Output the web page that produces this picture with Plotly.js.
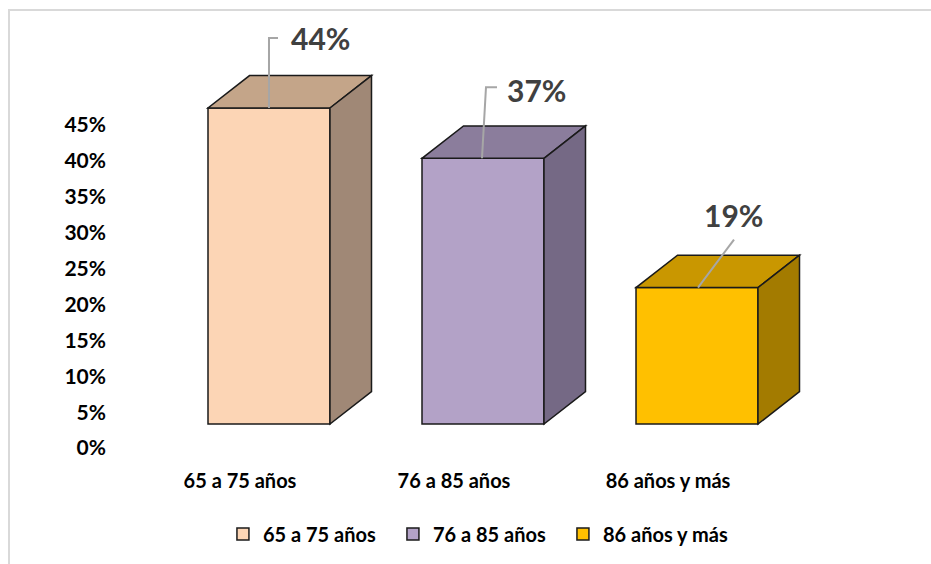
<!DOCTYPE html>
<html>
<head>
<meta charset="utf-8">
<script src="https://cdn.plot.ly/plotly-3.0.1.min.js"></script>
<style>
  html, body { margin: 0; padding: 0; background: #ffffff; overflow: hidden; }
  #chart { position: absolute; left: 0; top: 0; width: 931px; height: 564px; }
  #frame { position: absolute; left: 8px; top: 9px; width: 960px; height: 600px;
           border-top: 2px solid #d9d9d9; border-left: 2px solid #d9d9d9; pointer-events: none; }
</style>
</head>
<body>
<div id="chart"></div>
<div id="frame"></div>
<script>
// ---- data ----
const categories = ['65 a 75 años', '76 a 85 años', '86 años y más'];
const values = [44, 37, 19];
const yTickValues = [0, 5, 10, 15, 20, 25, 30, 35, 40, 45];
const yTickLabels = ['0%', '5%', '10%', '15%', '20%', '25%', '30%', '35%', '40%', '45%'];

// ---- style ----
const frontColors = ['#FCD5B5', '#B3A2C7', '#FFC000'];
const topColors = ['#C4A589', '#8B7D9C', '#C99700'];
const sideColors = ['#A08876', '#756985', '#A37B00'];
const outline = '#1a1a1a';
const barWidth = 0.57;          // in category units
const depthX = 0.194;           // 3D depth, category units
const depthY = 4.51;            // 3D depth, value units
const leaderPaths = ['M0,0 L0,70 L9,70', 'M-1,0 L3,71 L14,71', 'M1,0 L37,48'];
const labelShift = [[20, 70, 'left'], [22, 68, 'left'], [36, 73, 'center']];
const FONT = 'Lato, "Open Sans", sans-serif';

const traces = categories.map((c, i) => ({
  type: 'bar',
  name: c,
  x: [i],
  y: [values[i]],
  width: barWidth,
  marker: { color: frontColors[i], line: { color: outline, width: 1.5 } },
  hoverinfo: 'skip'
}));

const shapes = [];
const annotations = [];
categories.forEach((c, i) => {
  const v = values[i];
  const h = barWidth / 2;
  // top face
  shapes.push({
    type: 'path', xref: 'x', yref: 'y', layer: 'above',
    path: `M${i - h},${v} L${i + h},${v} L${i + h + depthX},${v + depthY} L${i - h + depthX},${v + depthY} Z`,
    fillcolor: topColors[i], line: { color: outline, width: 1.5 }
  });
  // side face
  shapes.push({
    type: 'path', xref: 'x', yref: 'y', layer: 'above',
    path: `M${i + h},0 L${i + h},${v} L${i + h + depthX},${v + depthY} L${i + h + depthX},${depthY} Z`,
    fillcolor: sideColors[i], line: { color: outline, width: 1.5 }
  });
  // leader line
  shapes.push({
    type: 'path', xref: 'x', yref: 'y', layer: 'above',
    xsizemode: 'pixel', ysizemode: 'pixel', xanchor: i, yanchor: v,
    path: leaderPaths[i],
    line: { color: '#A6A6A6', width: 2 }
  });
  annotations.push({
    xref: 'x', yref: 'y', x: i, y: v,
    xshift: labelShift[i][0], yshift: labelShift[i][1],
    xanchor: labelShift[i][2], yanchor: 'middle',
    text: v + '%', showarrow: false,
    font: { family: FONT, size: 30, color: '#404040', weight: 'bold' }
  });
});

const layout = {
  width: 931, height: 564,
  margin: { l: 112, r: 20, t: 20, b: 104 },
  paper_bgcolor: 'rgba(0,0,0,0)', plot_bgcolor: 'rgba(0,0,0,0)',
  barmode: 'overlay',
  showlegend: true,
  font: { family: FONT, color: '#000000' },
  xaxis: {
    type: 'linear', range: [-0.7336, 3.0],
    tickmode: 'array', tickvals: categories.map((c, i) => i), ticktext: categories,
    ticklabelshift: -29, ticklabelstandoff: 8,
    showgrid: false, zeroline: false, showline: false, ticks: '',
    tickfont: { family: FONT, size: 20, color: '#000000', weight: 'bold' }
  },
  yaxis: {
    range: [-4.861, 56.25],
    tickmode: 'array', tickvals: yTickValues, ticktext: yTickLabels,
    ticklabelshift: 24, ticklabelstandoff: 5,
    showgrid: false, zeroline: false, showline: false, ticks: '',
    tickfont: { family: FONT, size: 21, color: '#000000', weight: 'bold' }
  },
  legend: {
    orientation: 'h', x: 0.458, xanchor: 'center', y: -0.168, yanchor: 'middle',
    entrywidth: 125, entrywidthmode: 'pixels',
    font: { family: FONT, size: 20, color: '#000000', weight: 'bold' },
    traceorder: 'normal'
  },
  shapes: shapes,
  annotations: annotations
};

Plotly.newPlot('chart', traces, layout, { staticPlot: true, displayModeBar: false });
</script>
</body>
</html>
